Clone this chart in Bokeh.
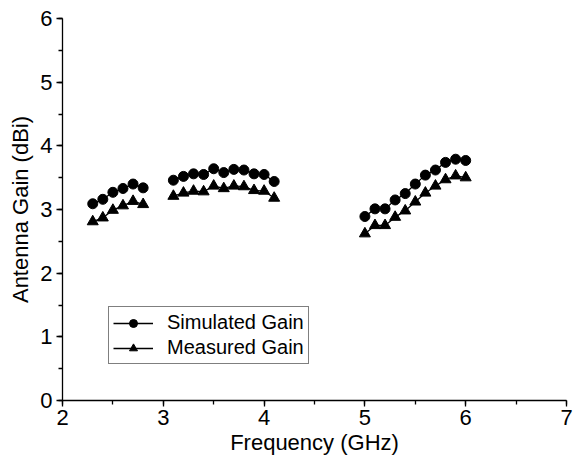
from bokeh.plotting import figure
from bokeh.models import Range1d, SingleIntervalTicker, Legend, LegendItem
from bokeh.embed import file_html
from bokeh.resources import INLINE

# Frequency bands (GHz)
freq_band1 = [2.3, 2.4, 2.5, 2.6, 2.7, 2.8]
freq_band2 = [3.1, 3.2, 3.3, 3.4, 3.5, 3.6, 3.7, 3.8, 3.9, 4.0, 4.1]
freq_band3 = [5.0, 5.1, 5.2, 5.3, 5.4, 5.5, 5.6, 5.7, 5.8, 5.9, 6.0]

# Simulated gain (dBi)
sim_band1 = [3.09, 3.16, 3.27, 3.33, 3.40, 3.34]
sim_band2 = [3.46, 3.52, 3.56, 3.55, 3.64, 3.58, 3.63, 3.62, 3.56, 3.55, 3.44]
sim_band3 = [2.89, 3.01, 3.01, 3.15, 3.25, 3.40, 3.54, 3.62, 3.74, 3.79, 3.77]

# Measured gain (dBi)
meas_band1 = [2.81, 2.87, 2.99, 3.06, 3.13, 3.08]
meas_band2 = [3.21, 3.26, 3.29, 3.28, 3.37, 3.33, 3.37, 3.36, 3.30, 3.29, 3.18]
meas_band3 = [2.62, 2.75, 2.75, 2.88, 2.98, 3.12, 3.26, 3.37, 3.47, 3.53, 3.50]

FONT = "Liberation Sans"

p = figure(width=576, height=458, output_backend="svg", toolbar_location=None,
           x_range=Range1d(2, 7), y_range=Range1d(0, 6),
           min_border_left=62, min_border_right=10, min_border_top=18, min_border_bottom=58)
p.outline_line_color = None
p.xgrid.grid_line_color = None
p.ygrid.grid_line_color = None
p.background_fill_color = "white"
p.border_fill_color = "white"

p.xaxis.ticker = SingleIntervalTicker(interval=1, num_minor_ticks=2)
p.yaxis.ticker = SingleIntervalTicker(interval=1, num_minor_ticks=2)
p.xaxis.axis_label = "Frequency (GHz)"
p.yaxis.axis_label = "Antenna Gain (dBi)"
for ax in (p.xaxis, p.yaxis):
    ax.axis_line_color = "black"
    ax.axis_line_width = 1.3
    ax.major_tick_line_color = "black"
    ax.minor_tick_line_color = "black"
    ax.major_tick_line_width = 1.3
    ax.minor_tick_line_width = 1.3
    ax.major_tick_in = 0
    ax.major_tick_out = 6
    ax.minor_tick_in = 0
    ax.minor_tick_out = 4
    ax.major_label_text_font = FONT
    ax.major_label_text_font_size = "22px"
    ax.major_label_text_color = "black"
    ax.axis_label_text_font = FONT
    ax.axis_label_text_font_size = "22px"
    ax.axis_label_text_font_style = "normal"
    ax.axis_label_text_color = "black"
p.xaxis.major_label_standoff = 3
p.xaxis.axis_label_standoff = 2
p.yaxis.major_label_standoff = 4
p.yaxis.axis_label_standoff = 4

sim_renderers = []
meas_renderers = []
for fx, sy, my in ((freq_band1, sim_band1, meas_band1),
                   (freq_band2, sim_band2, meas_band2),
                   (freq_band3, sim_band3, meas_band3)):
    l1 = p.line(fx, sy, line_color="black", line_width=1.3)
    s1 = p.scatter(fx, sy, marker="circle", size=10, fill_color="black", line_color="black")
    l2 = p.line(fx, my, line_color="black", line_width=1.3)
    s2 = p.scatter(fx, my, marker="triangle", size=11, fill_color="black", line_color="black")
    sim_renderers += [l1, s1]
    meas_renderers += [l2, s2]

legend = Legend(items=[LegendItem(label="Simulated Gain", renderers=[sim_renderers[0], sim_renderers[1]]),
                       LegendItem(label="Measured Gain", renderers=[meas_renderers[0], meas_renderers[1]])],
                location=(46, 36))
legend.glyph_width = 40
legend.glyph_height = 20
legend.label_height = 20
legend.label_standoff = 14
legend.padding = 4
legend.spacing = 2
legend.label_text_font = FONT
legend.label_text_font_size = "20px"
legend.label_text_color = "black"
legend.border_line_color = "black"
legend.border_line_width = 1
legend.background_fill_alpha = 1
legend.margin = 0
p.add_layout(legend)

open("out.html", "w").write(file_html(p, INLINE))
